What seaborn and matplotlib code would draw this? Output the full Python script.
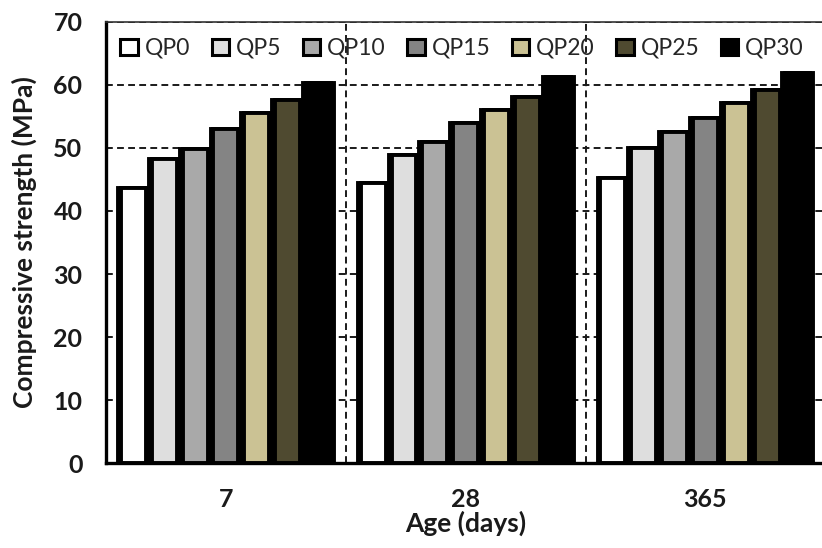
import matplotlib
matplotlib.use("Agg")
import matplotlib.pyplot as plt
from matplotlib.patches import Patch
import pandas as pd
import seaborn as sns

# Curing ages (x categories) and mix designations (hue)
ages = ["7", "28", "365"]
mixes = ["QP0", "QP5", "QP10", "QP15", "QP20", "QP25", "QP30"]

# Compressive strength (MPa) of each mix at 7, 28 and 365 days
qp0 = [43.6, 44.5, 45.2]
qp5 = [48.2, 48.9, 50.0]
qp10 = [49.9, 51.0, 52.6]
qp15 = [53.0, 54.0, 54.7]
qp20 = [55.5, 56.0, 57.1]
qp25 = [57.6, 58.1, 59.2]
qp30 = [60.3, 61.3, 61.9]

colors = ["#ffffff", "#dedede", "#a9a9a9", "#848484", "#cbc294", "#4f4a30", "#000000"]

series = [qp0, qp5, qp10, qp15, qp20, qp25, qp30]
df = pd.DataFrame(
    [(age, mix, val)
     for mix, vals in zip(mixes, series)
     for age, val in zip(ages, vals)],
    columns=["age", "mix", "strength"],
)

sns.set_theme(style="white")
plt.rcParams["font.family"] = ["Lato", "DejaVu Sans"]

fig = plt.figure(figsize=(8.22, 5.48), dpi=100)
ax = fig.add_axes([0.129, 0.155, 0.875, 0.805])

# Black backing bars fill each slot, giving the heavy dark separators
sns.barplot(data=df, x="age", y="strength", hue="mix", order=ages,
            hue_order=mixes, palette=["black"] * len(mixes), saturation=1,
            width=0.9, gap=0, edgecolor="black", linewidth=2.8,
            errorbar=None, legend=False, ax=ax)
# Coloured bars on top, slightly narrower than their slot
sns.barplot(data=df, x="age", y="strength", hue="mix", order=ages,
            hue_order=mixes, palette=colors, saturation=1,
            width=0.9, gap=0.19, edgecolor="black", linewidth=2.8,
            errorbar=None, legend=False, ax=ax)

ax.set_ylim(0, 70)
ax.set_xlim(-0.5, 2.5)
ax.set_yticks(range(0, 71, 10))

# Dashed gridlines: horizontal at each tick, vertical between age groups
ax.set_axisbelow(True)
ax.grid(axis="y", which="major", color="#1a1a1a", linestyle=(0, (3.5, 2.2)),
        linewidth=1.4)
ax.set_xticks([0.5, 1.5], minor=True)
ax.grid(axis="x", which="minor", color="#1a1a1a", linestyle=(0, (3.5, 2.2)),
        linewidth=1.4)
ax.grid(axis="x", which="major", visible=False)

for side in ("left", "bottom"):
    ax.spines[side].set_linewidth(2.4)
    ax.spines[side].set_color("black")
ax.spines["top"].set_linewidth(1.2)
ax.spines["top"].set_color("#333333")
ax.spines["right"].set_visible(False)

ax.tick_params(axis="y", which="both", length=0, pad=17, labelsize=18)
ax.tick_params(axis="x", which="both", length=0, pad=18, labelsize=18)
for lab in ax.get_xticklabels() + ax.get_yticklabels():
    lab.set_fontweight("bold")
    lab.set_color("#1a1a1a")

ax.set_xlabel("Age (days)", fontsize=19, fontweight="bold", color="#1a1a1a",
              labelpad=0)
ax.set_ylabel("Compressive strength (MPa)", fontsize=19, fontweight="bold",
              color="#1a1a1a", labelpad=12)

handles = [Patch(facecolor=c, edgecolor="black", linewidth=2.2) for c in colors]
ax.legend(handles, mixes, loc="center", bbox_to_anchor=(0.495, 0.94),
          ncol=len(mixes), frameon=False, fontsize=16.5, handlelength=0.75,
          handleheight=0.75, handletextpad=0.3, columnspacing=0.95,
          borderaxespad=0)

fig.savefig("out.png", dpi=100)
